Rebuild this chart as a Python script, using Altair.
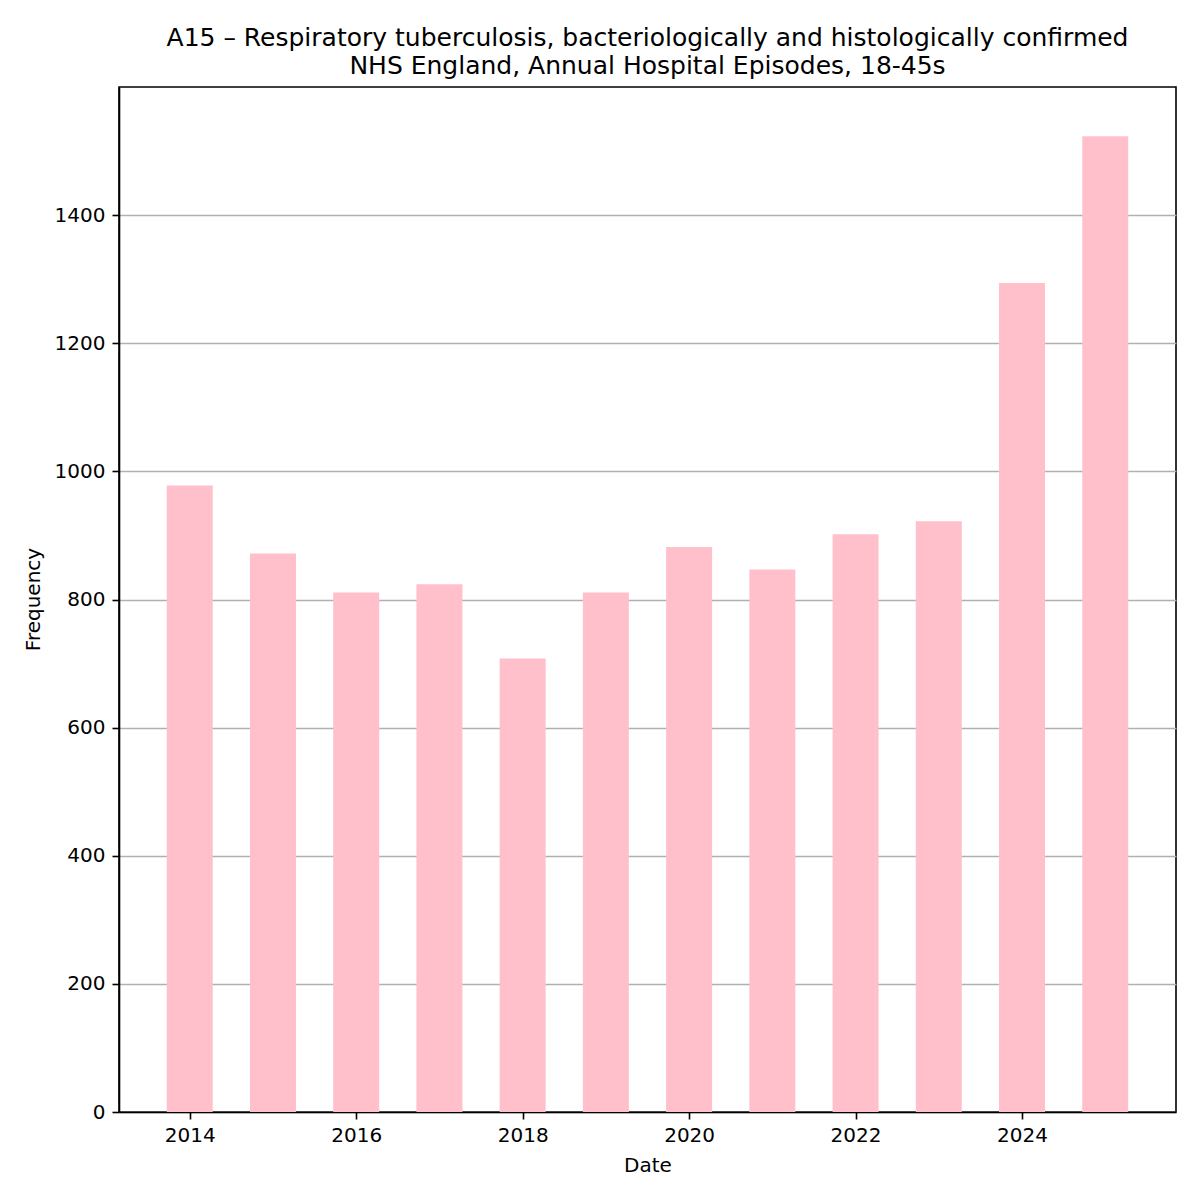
import altair as alt
import pandas as pd

years = [2014, 2015, 2016, 2017, 2018, 2019, 2020, 2021, 2022, 2023, 2024, 2025]
counts = [978, 872, 811, 824, 708, 811, 882, 847, 902, 922, 1294, 1523]
x_ticks = [2014, 2016, 2018, 2020, 2022, 2024]
y_ticks = [0, 200, 400, 600, 800, 1000, 1200, 1400]

df = pd.DataFrame({"Date": years, "Frequency": counts})

FONT = "DejaVu Sans"

chart = alt.Chart(df).mark_bar(color="#FFC0CB", size=46).encode(
    x=alt.X("Date:Q",
            scale=alt.Scale(domain=[2013.15, 2025.85], nice=False, zero=False, padding=0),
            axis=alt.Axis(values=x_ticks, format="d", grid=False, title="Date",
                          labelFontSize=20, titleFontSize=20, titleFontWeight="normal",
                          labelColor="black", titleColor="black",
                          domainColor="black", tickColor="black", tickSize=7,
                          labelPadding=6, titlePadding=10, labelFlush=False)),
    y=alt.Y("Frequency:Q",
            scale=alt.Scale(domain=[0, 1600], nice=False, padding=0),
            axis=alt.Axis(values=y_ticks, format="d", grid=True, gridColor="#b0b0b0", gridWidth=1.6,
                          title="Frequency",
                          labelFontSize=20, titleFontSize=20, titleFontWeight="normal",
                          labelColor="black", titleColor="black",
                          domainColor="black", tickColor="black", tickSize=7,
                          labelPadding=7, labelFlush=False,
                          titleX=-86, titleY=512, titleAngle=-90,
                          titleAlign="center", titleBaseline="middle")),
).properties(
    width=1057,
    height=1025,
    title=alt.TitleParams(
        text=["A15 \u2013 Respiratory tuberculosis, bacteriologically and histologically confirmed",
              "NHS England, Annual Hospital Episodes, 18-45s"],
        fontSize=25, fontWeight="normal", font=FONT, color="black",
        anchor="middle", offset=8, lineHeight=28),
    autosize=alt.AutoSizeParams(type="none"),
    padding={"left": 111, "top": 79, "right": 16, "bottom": 80},
).configure(font=FONT).configure_view(
    stroke="black", strokeWidth=1.6
).configure_axis(labelFont=FONT, titleFont=FONT, domainWidth=1.6, tickWidth=1.6)

chart.save("out.html", embed_options={"renderer": "svg", "actions": False})
